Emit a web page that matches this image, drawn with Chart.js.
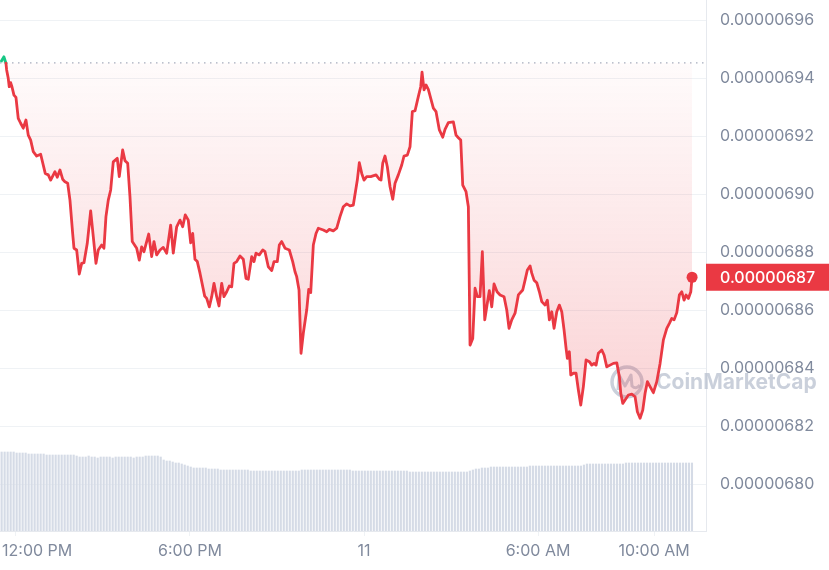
<!DOCTYPE html>
<html>
<head>
<meta charset="utf-8">
<script src="https://cdn.jsdelivr.net/npm/chart.js@4.4.1/dist/chart.umd.min.js"></script>
<style>
  html, body { margin: 0; padding: 0; background: #fff; }
  #wrap { width: 829px; height: 570px; position: relative; }
</style>
</head>
<body>
<div id="wrap"><canvas id="chart"></canvas></div>
<script>
// ================= DATA =================
// time in hours from 12:00 PM (day 10), price in units of 1e-8
const hoursFromNoon = [
  -0.50,-0.414,-0.345,-0.321,-0.266,-0.231,-0.183,-0.138,-0.069,0,
  0.079,0.162,0.252,0.345,0.424,0.507,0.597,0.714,0.852,1.010,
  1.114,1.197,1.345,1.424,1.517,1.610,1.690,1.783,1.862,1.955,
  2.0,2.093,2.183,2.266,2.345,2.459,2.576,2.666,2.759,2.838,
  2.955,3.034,3.103,3.183,3.266,3.355,3.493,3.562,3.679,3.759,
  3.852,3.931,4.010,4.162,4.252,4.334,4.414,4.576,4.679,4.759,
  4.852,4.966,5.079,5.197,5.334,5.424,5.541,5.655,5.748,5.838,
  5.941,6.024,6.093,6.172,6.252,6.345,6.507,6.576,6.666,6.748,
  6.828,6.921,7.0,7.093,7.172,7.266,7.355,7.438,7.517,7.610,
  7.724,7.838,7.931,8.010,8.128,8.207,8.276,8.390,8.507,8.586,
  8.700,8.817,8.897,9.010,9.079,9.162,9.276,9.424,9.541,9.621,
  9.679,9.759,9.828,9.907,10.024,10.093,10.162,10.252,10.345,10.424,
  10.597,10.714,10.803,10.941,11.059,11.172,11.286,11.403,11.517,11.631,
  11.769,11.838,11.921,12.0,12.093,12.231,12.414,12.528,12.586,12.645,
  12.724,12.803,12.897,12.990,13.069,13.183,13.300,13.379,13.493,13.586,
  13.666,13.759,13.872,13.955,14.0,14.069,14.138,14.217,14.300,14.390,
  14.483,14.597,14.714,14.793,14.907,15.079,15.172,15.252,15.334,15.403,
  15.517,15.597,15.655,15.748,15.828,15.907,16.0,16.079,16.162,16.252,
  16.321,16.403,16.483,16.586,16.690,16.828,16.921,17.0,17.093,17.207,
  17.321,17.472,17.552,17.631,17.724,17.783,17.862,17.955,18.045,18.128,
  18.241,18.321,18.390,18.472,18.552,18.645,18.734,18.817,18.897,18.966,
  19.010,19.079,19.128,19.217,19.310,19.390,19.472,19.562,19.655,19.769,
  19.852,19.931,20.0,20.079,20.197,20.276,20.369,20.483,20.597,20.714,
  20.803,20.852,20.921,21.0,21.114,21.231,21.345,21.424,21.517,21.610,
  21.690,21.769,21.862,21.976,22.093,22.207,22.321,22.438,22.528,22.610,
  22.690,22.783,22.872,22.955,23.034,23.103,23.183,23.266,23.310
];

const priceE8 = [
  694.59,694.73,694.51,694.28,693.99,693.70,693.84,693.70,693.41,693.33,
  692.61,692.44,692.27,692.55,692.03,691.86,691.46,691.31,691.37,690.71,
  690.66,690.48,690.77,690.58,690.83,690.51,690.42,690.37,689.79,688.64,
  688.13,688.07,687.24,687.61,687.63,688.30,689.42,688.53,687.61,688.07,
  688.24,688.13,689.22,689.79,690.14,691.11,691.23,690.60,691.52,691.15,
  691.06,689.91,688.36,688.13,687.72,688.18,688.01,688.62,687.84,688.36,
  687.90,688.07,688.16,687.96,688.93,687.96,688.87,689.10,688.87,689.28,
  689.10,688.32,688.64,687.75,687.67,687.27,686.48,686.40,686.11,686.46,
  686.92,686.46,686.14,686.92,686.46,686.63,686.83,686.80,687.61,687.67,
  687.86,687.75,687.09,687.06,687.84,687.67,687.96,687.90,688.07,688.01,
  687.49,687.36,687.67,687.67,688.24,688.36,688.13,688.07,687.67,687.32,
  687.15,686.69,684.51,685.20,686.00,686.71,686.60,688.24,688.64,688.82,
  688.76,688.70,688.78,688.73,688.82,689.22,689.56,689.66,689.59,689.62,
  690.48,691.08,690.71,690.48,690.60,690.60,690.66,690.51,690.48,691.06,
  691.31,690.94,690.25,689.82,690.37,690.66,691.00,691.31,691.34,691.63,
  692.84,692.87,693.36,693.70,694.20,693.59,693.76,693.61,693.30,692.96,
  692.84,692.21,691.96,692.23,692.46,692.49,692.03,691.94,691.86,690.31,
  690.08,689.56,684.79,685.02,686.75,686.46,686.46,688.01,685.66,686.24,
  686.67,686.11,686.90,686.63,686.52,686.46,686.00,685.37,685.66,685.89,
  686.52,686.69,687.03,687.38,687.52,687.27,687.03,686.94,686.63,686.29,
  686.17,686.34,685.66,685.94,685.37,685.94,686.17,685.94,685.31,684.68,
  684.33,684.56,683.76,683.82,683.82,683.24,682.72,683.36,684.28,684.22,
  684.10,684.16,684.10,684.51,684.62,684.45,684.04,684.10,684.16,684.18,
  683.70,683.13,682.78,682.90,683.07,683.10,683.01,682.49,682.27,682.55,
  683.13,683.53,683.36,683.15,683.53,684.16,684.97,685.37,685.54,685.71,
  685.66,685.91,686.52,686.63,686.34,686.52,686.40,686.63,687.13
];

// volume, relative units, one bar per interval
const volume = [
  79,79,79,79,79,78,78,
  78,78,77,77,77,77,77,77,
  76,76,76,76,76,76,76,76,76,76,
  75,74,74,74,75,74,74,73,74,74,74,74,73,74,74,74,74,74,74,73,74,74,74,75,75,
  75,75,75,74,
  71,70,70,69,
  68,68,67,
  66,65,64,63,
  63,63,63,63,62,
  62,62,62,
  61,61,61,61,61,61,61,61,61,61,
  60,60,60,60,60,60,60,60,60,60,60,60,60,60,60,60,60,
  61,61,61,61,61,61,61,61,61,61,61,61,61,61,61,61,61,
  60,60,60,60,60,60,60,60,60,60,60,60,60,60,60,60,60,60,60,
  59,59,59,59,59,59,59,59,59,59,59,59,59,59,59,59,59,59,59,59,
  60,61,62,62,63,63,63,
  64,64,64,64,64,64,64,64,64,64,64,64,64,
  65,65,65,65,65,65,65,65,65,65,65,65,65,65,65,65,65,65,
  66,67,67,67,67,67,67,67,67,67,67,67,67,67,
  68,68,68,68,68,68,68,68,68,68,68,68,68,68,68,68,68,68,68,68,68,68,68
];
const volFirstHour = -0.52, volLastHour = 23.28;

const xTickHours = [0, 6, 12, 18, 22];
const xTickLabels = ["12:00 PM", "6:00 PM", "11", "6:00 AM", "10:00 AM"];
const yTicks = [680, 682, 684, 686, 688, 690, 692, 694, 696];

const openPrice = 694.52;
const lastPrice = priceE8[priceE8.length - 1];

const xMin = -0.55, xMax = 23.79;
const yMin = 678.38, yMax = 696.69;

// ================= STYLE =================
const RED = "#ea3943";
const GREEN = "#16c784";
const TEXT = "#808a9d";
const GRID = "#eff2f5";
const FONT = "Inter";

const fmt = v => (v / 1e8).toFixed(8);

// ================= PLUGINS =================
const watermark = {
    id: "watermark",
    beforeDatasetsDraw(chart){
        const c = chart.ctx;
        c.save();
        c.strokeStyle = "rgba(180,188,204,0.7)";
        c.lineWidth = 3.5;
        c.beginPath();
        c.arc(627, 382, 15, 0, Math.PI * 2);
        c.stroke();
        c.lineWidth = 3;
        c.lineJoin = "round";
        c.beginPath();
        c.moveTo(618, 390);
        c.lineTo(619, 375);
        c.lineTo(625, 386);
        c.lineTo(631, 375);
        c.lineTo(632, 386);
        c.quadraticCurveTo(636, 390, 640, 385);
        c.stroke();
        c.fillStyle = "rgba(180,188,204,0.7)";
        c.font = "bold 21px " + FONT;
        c.textBaseline = "middle";
        c.fillText("CoinMarketCap", 656, 383);
        c.restore();
    }
};

const priceTag = {
    id: "priceTag",
    afterDraw(chart){
        const ys = chart.scales.y;
        const py = ys.getPixelForValue(lastPrice);
        const c = chart.ctx;
        c.save();
        c.fillStyle = RED;
        c.fillRect(ys.left, py - 13.5, chart.width - ys.left, 27);
        c.fillStyle = "#fff";
        c.font = "500 16px " + FONT;
        c.textBaseline = "middle";
        c.textAlign = "left";
        c.fillText(fmt(lastPrice), ys.left + 14, py + 1);
        c.restore();
    }
};

// first time label is kept inside the canvas
const firstLabelInside = {
    id: "firstLabelInside",
    beforeDraw(chart){
        const xs = chart.scales.x;
        if(!xs.getLabelItems) return;
        const items = xs.getLabelItems();
        if(items.length && items[0].options && items[0].options.translation){
            items[0].options.textAlign = "left";
            items[0].options.translation[0] = chart.chartArea.left + 2;
        }
    }
};

// ================= CHART =================
const ctx = document.getElementById("chart");

new Chart(ctx, {
    type: "line",
    data: {
        datasets: [
            {
                label: "Price",
                data: hoursFromNoon.map((h, i) => ({ x: h, y: priceE8[i] })),
                xAxisID: "x",
                yAxisID: "y",
                order: 0,
                borderColor: RED,
                borderWidth: 2.8,
                borderJoinStyle: "round",
                borderCapStyle: "round",
                tension: 0,
                segment: {
                    borderColor: s => s.p0.parsed.y > openPrice ? GREEN : RED
                },
                pointRadius: c => c.dataIndex === priceE8.length - 1 ? 5.5 : 0,
                pointBackgroundColor: RED,
                pointBorderWidth: 0,
                pointHoverRadius: 0,
                fill: { value: openPrice, above: "rgba(22,199,132,0.12)" },
                backgroundColor: c => {
                    const chart = c.chart;
                    if(!chart.chartArea) return "rgba(234,57,67,0.1)";
                    const ys = chart.scales.y;
                    const g = chart.ctx.createLinearGradient(
                        0, ys.getPixelForValue(openPrice), 0, ys.getPixelForValue(682));
                    g.addColorStop(0, "rgba(234,57,67,0.02)");
                    g.addColorStop(1, "rgba(234,57,67,0.23)");
                    return g;
                }
            },
            {
                label: "Open",
                data: [{ x: xMin, y: openPrice }, { x: xMax, y: openPrice }],
                xAxisID: "x",
                yAxisID: "y",
                order: 1,
                borderColor: "#a6adbd",
                borderWidth: 1.2,
                borderDash: [1.5, 4.5],
                pointRadius: 0,
                fill: false
            },
            {
                type: "bar",
                label: "Volume",
                data: volume.map((v, i) => ({
                    x: volFirstHour + i * (volLastHour - volFirstHour) / (volume.length - 1),
                    y: v
                })),
                xAxisID: "xv",
                yAxisID: "yv",
                order: 2,
                backgroundColor: "#d5dbe6",
                barThickness: 1.5
            }
        ]
    },
    options: {
        responsive: true,
        maintainAspectRatio: false,
        animation: false,
        events: [],
        layout: { padding: 0, autoPadding: false },
        plugins: {
            legend: { display: false },
            tooltip: { enabled: false }
        },
        scales: {
            x: {
                type: "linear",
                position: "bottom",
                min: xMin,
                max: xMax,
                offset: false,
                grid: { drawOnChartArea: false, drawTicks: true, tickLength: 5, color: GRID, offset: false },
                border: { display: true, color: "#e6e9ee" },
                ticks: {
                    color: TEXT,
                    font: { family: FONT, size: 16 },
                    padding: 6,
                    maxRotation: 0,
                    autoSkip: false,
                    callback: (v, i) => xTickLabels[i]
                },
                afterBuildTicks: s => { s.ticks = xTickHours.map(v => ({ value: v })); },
                afterFit: s => { s.height = 39; s.paddingLeft = 0; s.paddingRight = 0; }
            },
            xv: {
                type: "linear",
                display: false,
                min: xMin,
                max: xMax,
                offset: false,
                grid: { offset: false }
            },
            y: {
                type: "linear",
                position: "right",
                min: yMin,
                max: yMax,
                grid: { color: GRID, drawTicks: false },
                border: { display: true, color: "#e6e9ee" },
                ticks: {
                    color: TEXT,
                    font: { family: FONT, size: 16 },
                    padding: 14,
                    callback: v => fmt(v)
                },
                afterBuildTicks: s => { s.ticks = yTicks.map(v => ({ value: v })); },
                afterFit: s => { s.width = 123; s.paddingTop = 0; s.paddingBottom = 0; }
            },
            yv: {
                type: "linear",
                display: false,
                min: 0,
                max: 531
            }
        }
    },
    plugins: [watermark, priceTag, firstLabelInside]
});
</script>
</body>
</html>
